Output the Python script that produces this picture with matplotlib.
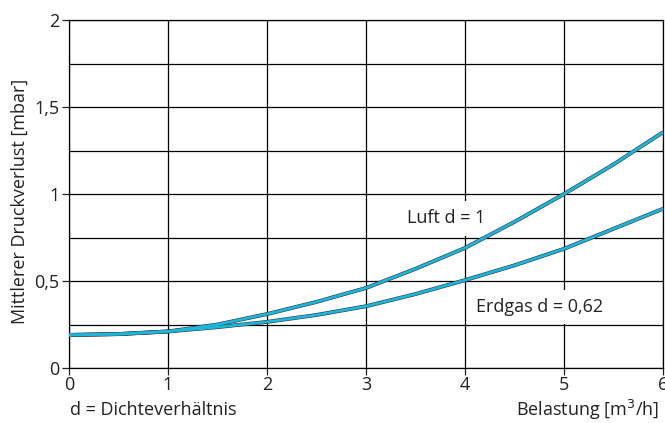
import numpy as np
import matplotlib.pyplot as plt
from matplotlib.ticker import MultipleLocator, FixedLocator

# Belastung [m3/h]
belastung = [0, 0.5, 1, 1.5, 2, 2.5, 3, 3.5, 4, 4.5, 5, 5.5, 6]
# Druckverlust Luft d = 1 [mbar]
luft = [0.19, 0.195, 0.21, 0.25, 0.31, 0.38, 0.46, 0.57, 0.69, 0.84, 1.0, 1.17, 1.355]
# Druckverlust Erdgas d = 0,62 [mbar]
erdgas = [0.19, 0.195, 0.21, 0.235, 0.265, 0.305, 0.355, 0.425, 0.505, 0.59, 0.685, 0.80, 0.915]

xticks = [0, 1, 2, 3, 4, 5, 6]
yticks = [0, 0.5, 1, 1.5, 2]
ytick_labels = ["0", "0,5", "1", "1,5", "2"]

plt.rcParams['font.family'] = ['Open Sans', 'DejaVu Sans']
txt = '#222222'

fig = plt.figure(figsize=(6.65, 4.23), dpi=100)
ax = fig.add_axes([0.1038, 0.130, 0.8932, 0.8227])

cyan = '#1ab6dc'
for werte in (luft, erdgas):
    ax.plot(belastung, werte, color='#333333', lw=2.8, zorder=4, solid_capstyle='butt')
    ax.plot(belastung, werte, color=cyan, lw=2.0, zorder=5, solid_capstyle='butt')

ax.set_xlim(0, 6)
ax.set_ylim(0, 2)
ax.xaxis.set_major_locator(FixedLocator(xticks))
ax.set_yticks(yticks)
ax.set_yticklabels(ytick_labels)
ax.yaxis.set_minor_locator(MultipleLocator(0.25))
ax.set_axisbelow(True)
ax.grid(True, which='both', color='black', lw=0.9)
ax.tick_params(axis='both', which='major', labelsize=13, length=5, width=0.9, colors=txt)
ax.tick_params(axis='y', which='minor', length=0)
ax.tick_params(axis='x', pad=1)
ax.tick_params(axis='y', pad=2)
for s in ax.spines.values():
    s.set_linewidth(0.9)

box = dict(facecolor='white', edgecolor='none', pad=6)
ax.text(3.41, 0.86, "Luft d = 1", fontsize=13, va='center', ha='left', color=txt,
        zorder=3, bbox=box)
ax.text(4.11, 0.35, "Erdgas d = 0,62", fontsize=13, va='center', ha='left', color=txt,
        zorder=3, bbox=box)

fig.text(0.030, 0.525, "Mittlerer Druckverlust [mbar]", fontsize=13, rotation=90,
         ha='center', va='center', color=txt)
fig.text(0.106, 0.030, "d = Dichteverhältnis", fontsize=13, ha='left', va='center', color=txt)
fig.text(0.991, 0.030, "Belastung [m$^{3}$/h]", fontsize=13, ha='right', va='center', color=txt)

fig.savefig("out.png", dpi=100)
